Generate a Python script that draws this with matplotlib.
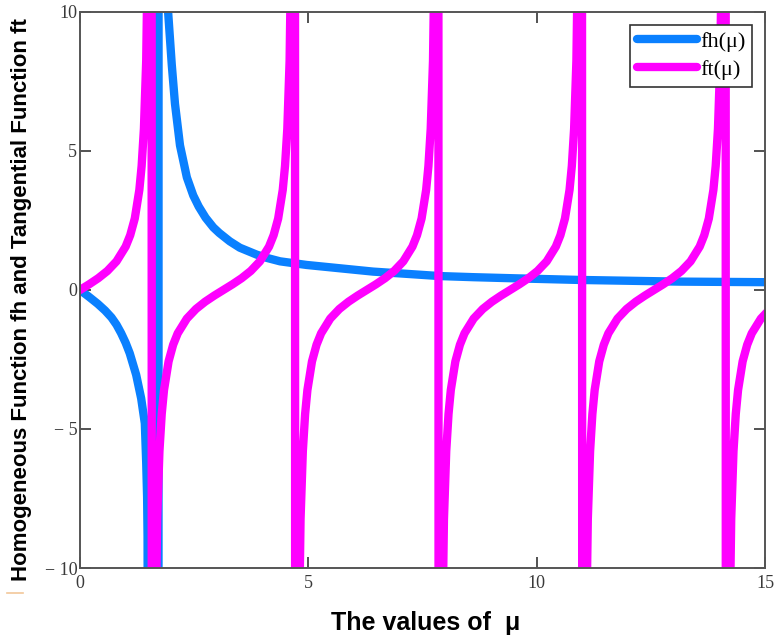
import numpy as np
import matplotlib
matplotlib.use("Agg")
import matplotlib.pyplot as plt
from matplotlib.lines import Line2D

# fh(mu) (the pole is jumped by a near-vertical line)
mu_h = [0.0, 0.20, 0.39, 0.55, 0.69, 0.80, 0.90, 1.00, 1.09, 1.23, 1.34, 1.42,
        1.45, 1.47, 1.48, 1.71,
        1.73, 1.93, 2.01, 2.08, 2.19, 2.34, 2.48, 2.60, 2.75, 2.92, 3.05, 3.28,
        3.50, 3.87, 4.10, 4.38, 4.96, 5.69, 6.42, 7.15, 7.88, 8.61, 9.50, 10.95,
        13.14, 15.0]
fh = [0.0, -0.25, -0.50, -0.74, -0.99, -1.25, -1.55, -1.90, -2.28, -3.05, -3.90, -4.8,
      -6.2, -7.45, -8.87, -200.0,
      200.0, 10.0, 8.1, 6.7, 5.2, 4.05, 3.40, 3.00, 2.60, 2.25, 2.05, 1.75,
      1.52, 1.27, 1.15, 1.03, 0.90, 0.78, 0.66, 0.58, 0.50, 0.46, 0.42, 0.36,
      0.30, 0.28]

# ft(mu): every branch has the same shape, centred on its zero crossing
ft_centres = [0.0, 3.14, 6.28, 9.42, 12.57, 15.71]
ft_offsets = [-1.56, -1.53, -1.50, -1.45, -1.40, -1.35, -1.30, -1.20, -1.10, -1.00,
              -0.80, -0.60, -0.40, -0.20, 0.0, 0.20, 0.40, 0.60, 0.80, 1.00,
              1.10, 1.20, 1.30, 1.35, 1.40, 1.45, 1.50, 1.53, 1.56]
ft_shape = [-92.6, -24.5, -14.1, -8.24, -5.80, -4.46, -3.60, -2.57, -1.97, -1.56,
            -1.03, -0.684, -0.423, -0.203, 0.0, 0.203, 0.423, 0.684, 1.03, 1.56,
            1.97, 2.57, 3.60, 4.46, 5.80, 8.24, 14.1, 24.5, 92.6]

mu_t = []
ft = []
for c in ft_centres:
    for d, v in zip(ft_offsets, ft_shape):
        mu_t.append(c + d)
        ft.append(v)

xticks = [0, 5, 10, 15]
yticks = [-10, -5, 0, 5, 10]
yticklabels = ["\u2212 10", "\u2212 5", "0", "5", "10"]

fig = plt.figure(figsize=(7.78, 6.37), dpi=100)
ax = fig.add_axes([0.1028, 0.1083, 0.8805, 0.873])

ax.plot(mu_h, fh, color="#0a80ff", lw=6, solid_capstyle="round",
        solid_joinstyle="round", label="fh(\u03bc)")
ax.plot(mu_t, ft, color="#ff00ff", lw=6, solid_capstyle="round",
        solid_joinstyle="round", label="ft(\u03bc)")

ax.set_xlim(0, 15)
ax.set_ylim(-10, 10)
ax.set_xticks(xticks)
ax.set_yticks(yticks)
ax.set_yticklabels(yticklabels)
ax.tick_params(direction="in", length=8, width=1.3, color="#444444",
               top=True, right=True, labelsize=13, labelcolor="#3a3a3a", pad=2)
ax.tick_params(axis="x", pad=5)
for lab in ax.get_xticklabels() + ax.get_yticklabels():
    lab.set_family("Liberation Serif")
for sp in ax.spines.values():
    sp.set_color("#555555")
    sp.set_linewidth(1.4)

ax.set_xlabel("The values of  \u03bc", fontsize=18, fontweight="bold",
              family="Liberation Sans")
ax.xaxis.set_label_coords(0.504, -0.077)
ax.set_ylabel("Homogeneous Function fh and Tangential Function ft", fontsize=16,
              fontweight="bold", family="Liberation Sans")
ax.yaxis.set_label_coords(-0.070, 0.482)

leg = ax.legend(loc="upper right", bbox_to_anchor=(0.981, 0.977), borderaxespad=0,
                fancybox=False, framealpha=1, edgecolor="#333333",
                prop={"family": "Liberation Serif", "size": 16},
                handlelength=2.7, handletextpad=0.15, borderpad=0.3,
                labelspacing=0.35)
leg.get_frame().set_linewidth(1.2)

# small stray mark below the y label in the original
fig.add_artist(Line2D([7 / 778, 23 / 778], [1 - 593 / 637, 1 - 593 / 637],
                      color="#f2c79a", lw=1.2))

fig.savefig("out.png", dpi=100)
